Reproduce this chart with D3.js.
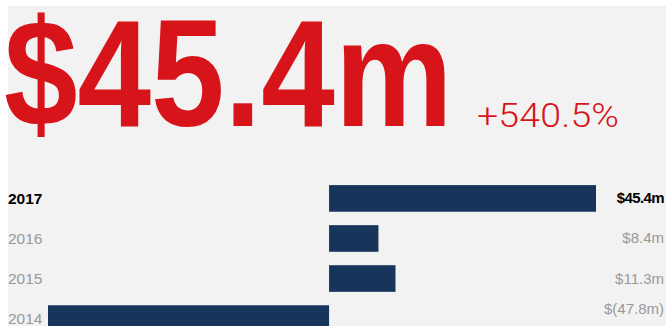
<!DOCTYPE html>
<html><head><meta charset="utf-8">
<script src="https://cdn.jsdelivr.net/npm/d3@7"></script>
<style>html,body{margin:0;padding:0;background:#fff;}svg{display:block;}</style>
</head><body>
<script>
const years = ["2017","2016","2015","2014"];
const values = [45.4, 8.4, 11.3, -47.8];
const valueLabels = ["$45.4m","$8.4m","$11.3m","$(47.8m)"];
const headline = "$45.4m";
const change = "+540.5%";

const W = 668, H = 326;
const svg = d3.select("body").append("svg").attr("width", W).attr("height", H);
svg.append("rect").attr("x", 8).attr("y", 6).attr("width", 658).attr("height", H - 6).attr("fill", "#f2f2f2");

svg.append("text").attr("transform", "translate(4,126) scale(0.87,1)")
  .attr("font-family", "Liberation Sans, Arial, sans-serif").attr("font-weight", 700)
  .attr("font-size", 152).attr("fill", "#d7141a").text(headline);
svg.append("text").attr("transform", "translate(477,127) scale(1.1,1)")
  .attr("font-family", "Roboto, sans-serif").attr("font-weight", 300)
  .attr("font-size", 34).attr("letter-spacing", 0.2).attr("fill", "#d7141a").text(change);

const x = d3.scaleLinear().domain([-47.8, 45.4]).range([48, 596]);
const y = d3.scaleBand().domain(years).range([178.5, 338.5]).paddingInner(0.335).paddingOuter(0.165);

svg.selectAll("rect.bar").data(years).enter().append("rect").attr("class","bar")
  .attr("x", (d,i) => x(Math.min(0, values[i])))
  .attr("width", (d,i) => Math.abs(x(values[i]) - x(0)))
  .attr("y", d => y(d)).attr("height", y.bandwidth())
  .attr("fill", "#17355a");

svg.selectAll("text.yr").data(years).enter().append("text").attr("class","yr")
  .attr("x", 8).attr("y", d => y(d) + y.bandwidth()/2 + 5.5)
  .attr("font-family", "Liberation Sans, Arial, sans-serif").attr("font-size", 15.5)
  .attr("font-weight", (d,i) => i === 0 ? 700 : 400)
  .attr("fill", (d,i) => i === 0 ? "#000" : "#999").text(d => d);

svg.selectAll("text.val").data(years).enter().append("text").attr("class","val")
  .attr("x", 664).attr("text-anchor", "end")
  .attr("y", d => Math.min(y(d) + y.bandwidth()/2 + 5, H - 12))
  .attr("font-family", "Liberation Sans, Arial, sans-serif").attr("font-size", 15)
  .attr("font-weight", (d,i) => i === 0 ? 700 : 400)
  .attr("letter-spacing", (d,i) => i === 0 ? -0.6 : 0)
  .attr("fill", (d,i) => i === 0 ? "#000" : "#999").text((d,i) => valueLabels[i]);
</script>
</body></html>
